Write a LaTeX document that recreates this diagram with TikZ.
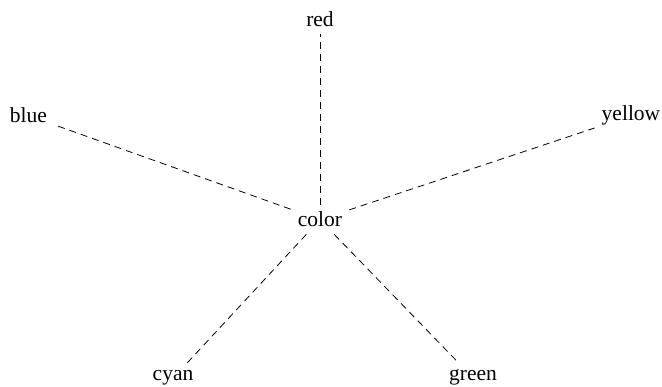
\documentclass[tikz,border=0pt]{standalone}
\usepackage{fontspec}
\setmainfont{Liberation Serif}
\begin{document}
\begin{tikzpicture}[x=1pt,y=-1pt,
  lbl/.style={inner sep=7pt,anchor=base,font=\fontsize{21.5}{25}\selectfont},
  conn/.style={dashed,dash pattern=on 7pt off 5pt,line width=0.8pt}]
\useasboundingbox (0,0) rectangle (662,387);
\node[lbl] (color) at (320,227) {color};
\node[lbl] (red) at (320,27) {red};
\node[lbl] (blue) at (28.5,123) {blue};
\node[lbl] (yellow) at (631,121) {yellow};
\node[lbl] (cyan) at (173,381) {cyan};
\node[lbl] (green) at (473,381) {green};
\draw[conn] (color) -- (red);
\draw[conn] (color) -- (blue);
\draw[conn] (color) -- (yellow);
\draw[conn] (color) -- (cyan);
\draw[conn] (color) -- (green);
\end{tikzpicture}
\end{document}
